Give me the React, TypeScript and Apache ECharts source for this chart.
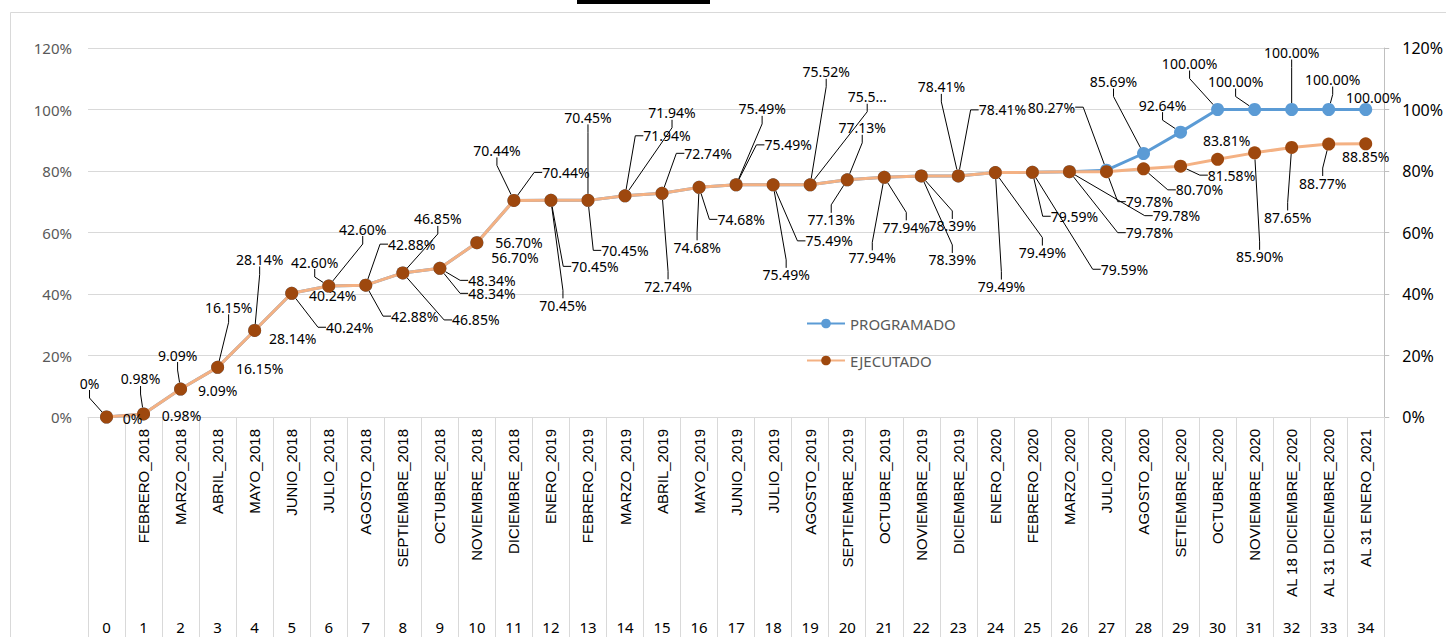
import React, { useEffect, useRef } from "react";
import * as echarts from "echarts";

const months = [
  "", "FEBRERO_2018", "MARZO_2018", "ABRIL_2018", "MAYO_2018", "JUNIO_2018", "JULIO_2018",
  "AGOSTO_2018", "SEPTIEMBRE_2018", "OCTUBRE_2018", "NOVIEMBRE_2018", "DICIEMBRE_2018",
  "ENERO_2019", "FEBRERO_2019", "MARZO_2019", "ABRIL_2019", "MAYO_2019", "JUNIO_2019",
  "JULIO_2019", "AGOSTO_2019", "SEPTIEMBRE_2019", "OCTUBRE_2019", "NOVIEMBRE_2019",
  "DICIEMBRE_2019", "ENERO_2020", "FEBRERO_2020", "MARZO_2020", "JULIO_2020", "AGOSTO_2020",
  "SETIEMBRE_2020", "OCTUBRE_2020", "NOVIEMBRE_2020", "AL 18 DICIEMBRE_2020",
  "AL 31 DICIEMBRE_2020", "AL 31 ENERO_2021",
];

const periodNumbers = [
  "0", "1", "2", "3", "4", "5", "6", "7", "8", "9", "10", "11", "12", "13", "14", "15", "16", "17",
  "18", "19", "20", "21", "22", "23", "24", "25", "26", "27", "28", "29", "30", "31", "32", "33", "34",
];

const programado = [
  0, 0.98, 9.09, 16.15, 28.14, 40.24, 42.6, 42.88, 46.85, 48.34, 56.7, 70.44, 70.45, 70.45,
  71.94, 72.74, 74.68, 75.49, 75.49, 75.52, 77.13, 77.94, 78.39, 78.41, 79.49, 79.59, 79.78,
  80.27, 85.69, 92.64, 100, 100, 100, 100, 100,
];

const ejecutado = [
  0, 0.98, 9.09, 16.15, 28.14, 40.24, 42.6, 42.88, 46.85, 48.34, 56.7, 70.44, 70.45, 70.45,
  71.94, 72.74, 74.68, 75.49, 75.49, 75.52, 77.13, 77.94, 78.39, 78.41, 79.49, 79.59, 79.78,
  79.78, 80.7, 81.58, 83.81, 85.9, 87.65, 88.77, 88.85,
];

// label placement (offset of label centre from marker centre, leader line on/off)
const progLabelPos: number[][] = [
  [-17, -34, 1], [-3, -35, 1], [-3, -34, 1], [11, -60, 1], [5, -71, 1], [41, 2, 0],
  [-14, -24, 1], [46, -41, 1], [35, -54, 1], [52, 12, 1], [42, 0, 0], [-17, -50, 1],
  [44, 66, 1], [0, -83, 1], [47, -83, 1], [46, -40, 1], [42, 32, 1], [26, -76, 1],
  [56, 56, 1], [16, -113, 1], [15, -52, 1], [22, 50, 1], [31, 50, 1], [-17, -89, 1],
  [47, 80, 1], [42, 44, 1], [107, 44, 1], [-55, -63, 1], [-30, -72, 1], [-18, -27, 1],
  [-28, -46, 1], [-19, -28, 1], [0, -57, 1], [4, -30, 1], [8, -12, 0],
];
const ejecLabelPos: number[][] = [
  [26, 1, 0], [38, 2, 0], [37, 1, 0], [42, 1, 0], [38, 8, 0], [58, 34, 1],
  [34, -57, 1], [49, 31, 1], [73, 47, 1], [52, 25, 1], [38, 15, 0], [52, -28, 1],
  [12, 105, 1], [37, 50, 1], [42, -60, 1], [6, 93, 1], [-2, 60, 1], [52, -40, 1],
  [13, 90, 1], [57, -88, 1], [-16, 40, 1], [-12, 80, 1], [31, 84, 1], [44, -66, 1],
  [6, 114, 1], [92, 97, 1], [80, 61, 1], [43, 30, 1], [56, 21, 1], [51, 9, 1],
  [9, -19, 0], [5, 104, 1], [-4, 70, 1], [-6, 39, 1], [0, 13, 0],
];
const truncatedEjecLabel = 19;

const FONT = "Noto Sans";

const fmt = (v: number) => (v === 0 ? "0%" : v.toFixed(2) + "%");

function makeLayout(pos: number[][]) {
  return (p: any) => {
    const o = pos[p.dataIndex] || [0, 0, 0];
    const cx = p.rect.x + p.rect.width / 2;
    const cy = p.rect.y + p.rect.height / 2;
    return { x: cx + o[0], y: cy + o[1], align: "center", verticalAlign: "middle" };
  };
}

export default function App() {
  const ref = useRef<HTMLDivElement>(null);

  useEffect(() => {
    if (!ref.current) return;
    const chart = echarts.init(ref.current, undefined, { renderer: "svg" });

    const progData = programado.map((v, i) => ({
      value: v,
      labelLine: { show: progLabelPos[i][2] === 1 },
    }));
    const ejecData = ejecutado.map((v, i) => ({
      value: v,
      labelLine: { show: ejecLabelPos[i][2] === 1 },
      label:
        i === truncatedEjecLabel
          ? { width: 45, overflow: "truncate", ellipsis: "..." }
          : undefined,
    }));

    const labelCommon = {
      show: true,
      color: "#000",
      fontSize: 14,
      fontFamily: FONT,
      formatter: (p: any) => fmt(p.value),
    };
    const labelLineCommon = {
      show: true,
      length2: 8,
      lineStyle: { color: "#000", width: 1 },
    };

    chart.setOption({
      animation: false,
      textStyle: { fontFamily: FONT },
      graphic: [
        {
          type: "rect",
          silent: true,
          z: -10,
          shape: { x: 10.5, y: 12.5, width: 1470, height: 660 },
          style: { fill: "none", stroke: "#d9d9d9", lineWidth: 1 },
        },
        {
          type: "rect",
          silent: true,
          shape: { x: 577, y: 0, width: 133, height: 4 },
          style: { fill: "#000" },
        },
      ],
      legend: {
        orient: "vertical",
        left: 801,
        top: 311,
        itemGap: 22,
        itemWidth: 38,
        itemHeight: 12,
        textStyle: { color: "#595959", fontSize: 15, fontFamily: FONT },
        data: ["PROGRAMADO", "EJECUTADO"],
      },
      grid: { left: 88, right: 60, top: 48, bottom: 220 },
      xAxis: [
        {
          type: "category",
          data: months,
          boundaryGap: true,
          position: "bottom",
          axisLine: { show: true, lineStyle: { color: "#d9d9d9" } },
          axisTick: {
            show: true,
            interval: 0,
            length: 225,
            lineStyle: { color: "#d9d9d9" },
          },
          axisLabel: {
            interval: 0,
            rotate: 90,
            margin: 12,
            fontSize: 15,
            color: "#000",
            fontFamily: "Liberation Sans",
          },
          splitLine: { show: false },
        },
        {
          type: "category",
          data: periodNumbers,
          boundaryGap: true,
          position: "bottom",
          offset: 196,
          axisLine: { show: false },
          axisTick: { show: false },
          axisLabel: {
            interval: 0,
            margin: 6,
            fontSize: 15,
            color: "#000",
            fontFamily: FONT,
          },
          splitLine: { show: false },
        },
      ],
      yAxis: [
        {
          type: "value",
          min: 0,
          max: 120,
          interval: 20,
          position: "left",
          axisLine: { show: false },
          axisTick: { show: false },
          axisLabel: {
            formatter: "{value}%",
            color: "#595959",
            fontSize: 15,
            margin: 16,
            fontFamily: FONT,
          },
          splitLine: { show: true, lineStyle: { color: "#d9d9d9", width: 1 } },
        },
        {
          type: "value",
          min: 0,
          max: 120,
          interval: 20,
          position: "right",
          axisLine: { show: true, lineStyle: { color: "#bfbfbf" } },
          axisTick: { show: true, length: 5, lineStyle: { color: "#bfbfbf" } },
          axisLabel: {
            formatter: "{value}%",
            color: "#000",
            fontSize: 16,
            margin: 18,
            fontFamily: FONT,
          },
          splitLine: { show: false },
        },
      ],
      series: [
        {
          name: "PROGRAMADO",
          type: "line",
          xAxisIndex: 0,
          yAxisIndex: 0,
          data: progData,
          symbol: "circle",
          symbolSize: 13,
          showAllSymbol: true,
          color: "#5B9BD5",
          lineStyle: { color: "#5B9BD5", width: 3 },
          itemStyle: { color: "#5B9BD5" },
          label: labelCommon,
          labelLine: labelLineCommon,
          labelLayout: makeLayout(progLabelPos),
          z: 2,
        },
        {
          name: "EJECUTADO",
          type: "line",
          xAxisIndex: 0,
          yAxisIndex: 0,
          data: ejecData,
          symbol: "circle",
          symbolSize: 13,
          showAllSymbol: true,
          color: "#9E480E",
          lineStyle: { color: "#F4B183", width: 3 },
          itemStyle: { color: "#9E480E" },
          label: labelCommon,
          labelLine: labelLineCommon,
          labelLayout: makeLayout(ejecLabelPos),
          z: 3,
        },
      ],
    });

    return () => chart.dispose();
  }, []);

  return (
    <div
      ref={ref}
      style={{ position: "absolute", left: 0, top: 0, width: 1446, height: 637, background: "#fff" }}
    />
  );
}
